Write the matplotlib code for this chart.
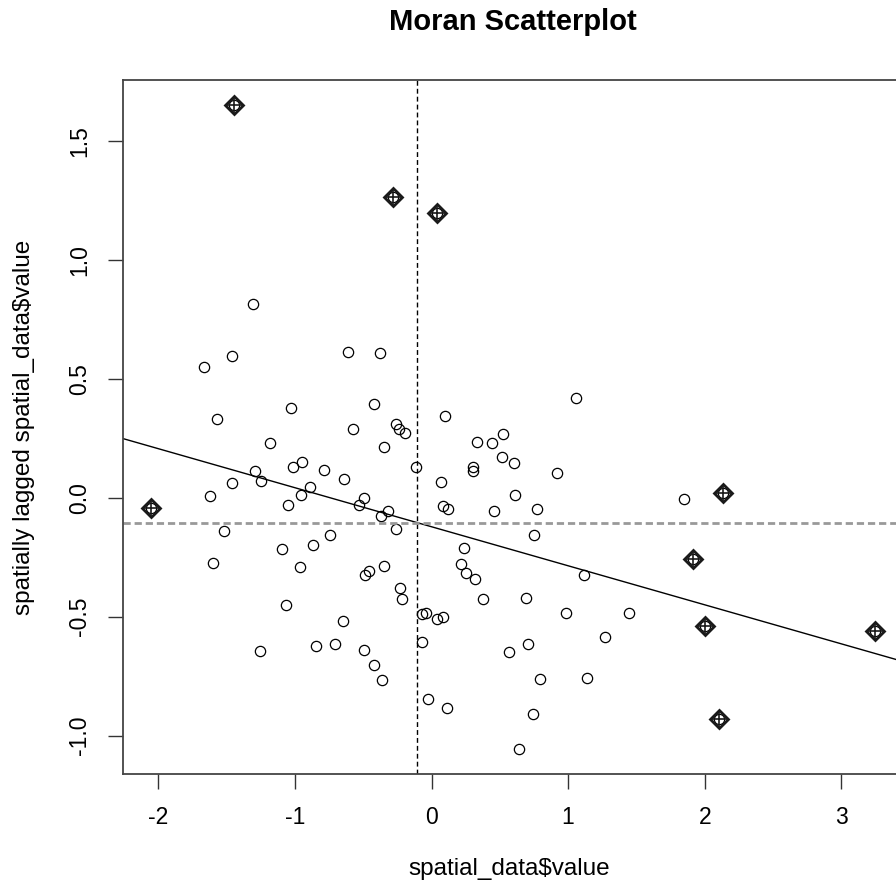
import numpy as np
import matplotlib
matplotlib.use('Agg')
import matplotlib.pyplot as plt

plt.rcParams['font.family'] = ['Liberation Sans', 'DejaVu Sans']
plt.rcParams['axes.unicode_minus'] = False

# spatial_data$value and its spatially lagged value (all 100 points)
value_x = [-1.309, -1.666, -1.461, -0.611, -0.377, -1.026, -0.419, -1.573, -0.572, -0.260,
           -0.240, -0.196, -0.345, -1.182, -0.946, -1.012, -0.785, -0.641, -1.290, -1.250,
           -1.461, -1.622, -0.892, -0.953, -1.048, -0.492, -0.533, -0.316, -0.372, -0.260,
           -1.517, -0.743, -0.865, -1.094, -0.113, 0.099, 1.058, 0.333, 0.441, 0.523,
           0.518, 0.604, 0.302, 0.306, 0.921, 0.067, 0.609, 0.086, 0.123, 0.455,
           0.772, 0.753, 0.240, 1.848, -1.597, -0.963, -0.348, -0.458, -0.484, -0.231,
           -0.216, -1.063, -0.650, -0.848, -0.709, -1.258, -0.496, -0.421, -0.365, 0.214,
           0.255, 0.316, 0.375, 0.692, 1.114, -0.072, -0.040, 0.042, 0.082, 0.982,
           1.448, 1.270, -0.070, 0.565, 0.709, 0.794, 1.136, -0.028, 0.111, 0.741,
           0.641]
lagged_x = [0.814, 0.549, 0.594, 0.613, 0.609, 0.378, 0.395, 0.332, 0.287, 0.310,
            0.287, 0.273, 0.212, 0.229, 0.149, 0.129, 0.115, 0.080, 0.111, 0.069,
            0.061, 0.008, 0.045, 0.011, -0.031, -0.001, -0.029, -0.057, -0.076, -0.133,
            -0.139, -0.158, -0.199, -0.217, 0.128, 0.345, 0.419, 0.233, 0.228, 0.269,
            0.172, 0.144, 0.130, 0.112, 0.104, 0.065, 0.011, -0.034, -0.046, -0.056,
            -0.049, -0.157, -0.212, -0.005, -0.274, -0.291, -0.288, -0.308, -0.326, -0.381,
            -0.426, -0.452, -0.517, -0.622, -0.613, -0.645, -0.640, -0.704, -0.765, -0.277,
            -0.315, -0.342, -0.427, -0.421, -0.325, -0.489, -0.484, -0.511, -0.500, -0.484,
            -0.484, -0.587, -0.608, -0.647, -0.613, -0.760, -0.756, -0.845, -0.885, -0.909,
            -1.056]

# influential observations
infl_x = [-1.444, -0.280, 0.042, -2.051, 2.136, 1.912, 2.002, 3.247, 2.107]
infl_lag = [1.650, 1.265, 1.195, -0.043, 0.018, -0.259, -0.539, -0.559, -0.931]

# means and regression line
mean_x = -0.104
mean_lag = -0.105
reg_intercept = -0.122
reg_slope = -0.164

W, H = 896, 890
fig = plt.figure(figsize=(W / 100, H / 100), dpi=100)
left_px, right_px, top_px, bottom_px = 123, 896, 80, 774
ax = fig.add_axes([left_px / W, 1 - bottom_px / H,
                   (right_px - left_px) / W, (bottom_px - top_px) / H])

all_x = value_x + infl_x
all_y = lagged_x + infl_lag
ax.plot(all_x, all_y, 'o', ls='none', mfc='none', mec='black', ms=7.4, mew=0.9)
ax.plot(infl_x, infl_lag, 'D', ls='none', mfc='none', mec='#1a1a1a', ms=9.5, mew=2.0)
ax.plot(infl_x, infl_lag, '+', ls='none', mec='#1a1a1a', ms=13, mew=1.2)

xs = np.array([-3, 4])
ax.plot(xs, reg_intercept + reg_slope * xs, color='black', lw=1.0)
ax.axvline(mean_x, color='black', lw=1.0, ls=(0, (3.5, 2.2)))
ax.axhline(mean_lag, color='#999999', lw=2.0, ls=(0, (2.6, 1.4)))

ax.set_xlim((left_px - 431.5) / 136.6, (right_px - 431.5) / 136.6)
ax.set_ylim((497.7 - bottom_px) / 238, (497.7 - top_px) / 238)
ax.set_xticks([-2, -1, 0, 1, 2, 3])
ax.set_yticks([-1.0, -0.5, 0.0, 0.5, 1.0, 1.5])
ax.set_yticklabels(['-1.0', '-0.5', '0.0', '0.5', '1.0', '1.5'], rotation=90, va='center')
ax.tick_params(direction='out', length=11, width=1.0, color='#333333',
               labelsize=16.5, pad=12)
ax.spines['right'].set_visible(False)
for s in ['left', 'top', 'bottom']:
    ax.spines[s].set_color('#444444')
    ax.spines[s].set_linewidth(1.3)

ax.set_xlabel('spatial_data$value', fontsize=17.5, labelpad=21)
ax.set_ylabel('spatially lagged spatial_data$value', fontsize=17.5, labelpad=24)
fig.suptitle('Moran Scatterplot', x=(512.5) / W, y=1 - 22 / H, va='center',
             fontsize=21, fontweight='bold')

fig.savefig('out.png', dpi=100)
